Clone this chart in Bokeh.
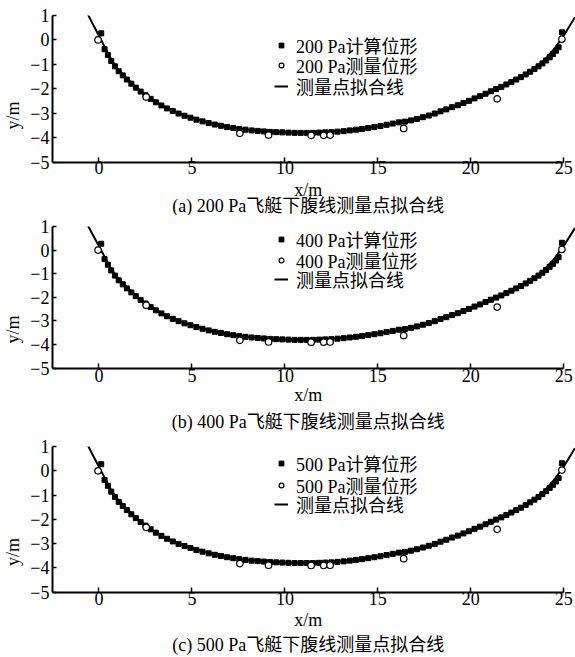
from bokeh.plotting import figure
from bokeh.models import Legend, LegendItem, FixedTicker, Range1d, Label
from bokeh.layouts import column
from bokeh.embed import file_html
from bokeh.resources import INLINE

# ---- data ----
calc_x = [0.12, 0.30, 0.48, 0.66, 0.86, 1.06, 1.28, 1.50, 1.74, 1.98, 2.24, 2.50,
          2.78, 3.06, 3.36, 3.66, 3.97, 4.28, 4.60, 4.92, 5.24, 5.57, 5.90, 6.23,
          6.56, 6.89, 7.22, 7.55, 7.88, 8.21, 8.54, 8.87, 9.20, 9.53, 9.86, 10.19,
          10.52, 10.85, 11.18, 11.51, 11.84, 12.17, 12.50, 12.83, 13.16, 13.49,
          13.82, 14.15, 14.48, 14.81, 15.14, 15.47, 15.80, 16.13, 16.46, 16.78,
          17.10, 17.42, 17.74, 18.06, 18.37, 18.68, 18.99, 19.30, 19.60, 19.90,
          20.20, 20.50, 20.79, 21.08, 21.36, 21.64, 21.91, 22.18, 22.44, 22.70,
          22.95, 23.19, 23.42, 23.64, 23.85, 24.05, 24.24, 24.42, 24.58, 24.72, 24.90]
calc_y = [0.27, -0.38, -0.62, -0.86, -1.08, -1.28, -1.45, -1.62, -1.79, -1.95, -2.11, -2.26,
          -2.41, -2.55, -2.68, -2.80, -2.91, -3.01, -3.10, -3.18, -3.26, -3.33, -3.40, -3.46,
          -3.51, -3.56, -3.60, -3.64, -3.67, -3.70, -3.72, -3.74, -3.76, -3.77, -3.78, -3.79,
          -3.80, -3.80, -3.80, -3.80, -3.79, -3.78, -3.77, -3.75, -3.73, -3.70,
          -3.67, -3.64, -3.60, -3.56, -3.52, -3.47, -3.42, -3.37, -3.34, -3.29,
          -3.23, -3.16, -3.09, -3.01, -2.92, -2.84, -2.75, -2.67, -2.58, -2.49,
          -2.39, -2.30, -2.20, -2.10, -2.01, -1.92, -1.82, -1.72, -1.62, -1.52,
          -1.41, -1.30, -1.19, -1.08, -0.96, -0.84, -0.71, -0.58, -0.44, -0.30, 0.31]

meas_x = [-0.05, 2.54, 7.58, 9.12, 11.41, 12.09, 12.43, 16.39, 21.42, 24.90]
meas_y = [0.00, -2.33, -3.82, -3.89, -3.90, -3.90, -3.89, -3.62, -2.41, 0.03]

fit_x = [-0.6, -0.3, 0.0, 0.3, 0.7, 1.0, 1.5, 2.0, 2.5, 3.0, 3.5, 4.0, 4.5, 5.0, 6.0, 7.0,
         8.0, 9.0, 10.0, 11.0, 12.0, 13.0, 14.0, 15.0, 16.0, 17.0, 18.0, 19.0, 20.0,
         21.0, 22.0, 23.0, 23.5, 24.0, 24.5, 25.0, 25.6]
fit_y = [1.05, 0.60, 0.17, -0.28, -0.85, -1.16, -1.57, -1.93, -2.24, -2.50, -2.72, -2.90,
         -3.05, -3.18, -3.40, -3.56, -3.67, -3.74, -3.78, -3.79, -3.77, -3.72, -3.64,
         -3.53, -3.40, -3.24, -3.02, -2.77, -2.49, -2.17, -1.81, -1.38, -1.11, -0.79,
         -0.36, 0.18, 0.93]

pressures = ["200", "400", "500"]
panel_tags = ["a", "b", "c"]
x_ticks = [0, 5, 10, 15, 20, 25]
y_ticks = [-5, -4, -3, -2, -1, 0, 1]

LATIN = "Liberation Serif"
MIXED = "'Liberation Serif', 'Noto Sans CJK SC'"
FS = "18px"

# page-pixel layout of each panel (layout only, not data)
layouts = [
    dict(top=0, h=215, ftop=15, m5=161.7, xm=189.0, cap=205.0,
         rows=(45.0, 65.0, 86.0), std=-1),
    dict(top=215, h=217, ftop=226, m5=367.7, xm=394.0, cap=421.0,
         rows=(239.3, 259.5, 278.8), std=1),
    dict(top=432, h=225, ftop=446, m5=591.7, xm=619.0, cap=644.0,
         rows=(463.3, 484.7, 504.0), std=0),
]
ROW_H = 26


def make_panel(i):
    L = layouts[i]
    pr = pressures[i]
    bt = L["ftop"] - L["top"]
    ppu = (L["m5"] - L["ftop"]) / 6.0          # pixels per y unit
    bottom_px = L["top"] + L["h"]
    y0 = 1 - (bottom_px - L["ftop"]) / ppu

    def y_at(page_y):
        return 1 - (page_y - L["ftop"]) / ppu

    p = figure(width=575, height=L["h"],
               x_range=Range1d(-2.5, 25.63), y_range=Range1d(y0, 1),
               output_backend="svg", toolbar_location=None,
               min_border_left=50, min_border_right=0,
               min_border_top=bt, min_border_bottom=0)
    p.outline_line_color = None
    p.grid.visible = False
    p.background_fill_color = "white"
    p.border_fill_color = "white"

    r_line = p.line(fit_x, fit_y, line_color="black", line_width=2)
    r_sq = p.scatter(calc_x, calc_y, marker="square", size=5,
                     fill_color="black", line_color="black")
    r_ci = p.scatter(meas_x, meas_y, marker="circle", size=6.5,
                     fill_color="white", line_color="black", line_width=1.2)

    for ax in (p.xaxis, p.yaxis):
        ax.axis_line_width = 2
        ax.axis_line_color = "black"
        ax.major_tick_line_width = 1.5
        ax.major_tick_line_color = "black"
        ax.major_tick_out = 0
        ax.minor_tick_in = 0
        ax.minor_tick_out = 0
        ax.major_label_text_font = LATIN
        ax.major_label_text_font_size = FS
        ax.major_label_text_color = "black"
    p.xaxis.ticker = FixedTicker(ticks=x_ticks)
    p.xaxis.bounds = (-2.5, 25)
    p.xaxis.fixed_location = -5
    p.xaxis.major_tick_in = 5
    p.xaxis.major_label_standoff = L["std"]
    p.yaxis.ticker = FixedTicker(ticks=y_ticks)
    p.yaxis.bounds = (-5, 1)
    p.yaxis.major_tick_in = 4
    p.yaxis.major_label_standoff = 3
    p.yaxis.axis_label = "y/m"
    p.yaxis.axis_label_text_font = LATIN
    p.yaxis.axis_label_text_font_size = FS
    p.yaxis.axis_label_text_font_style = "normal"
    p.yaxis.axis_label_text_color = "black"
    p.yaxis.axis_label_standoff = 4

    p.add_layout(Label(x=11.25, y=y_at(L["xm"]), text="x/m",
                       text_align="center", text_baseline="middle",
                       text_font=LATIN, text_font_size=FS, text_color="black"))
    p.add_layout(Label(x=11.25, y=y_at(L["cap"]),
                       text=f"({panel_tags[i]}) {pr} Pa飞艇下腹线测量点拟合线",
                       text_align="center", text_baseline="middle",
                       text_font=MIXED, text_font_size=FS, text_color="black"))

    labels = [f"{pr} Pa计算位形", f"{pr} Pa测量位形", "测量点拟合线"]
    rends = [r_sq, r_ci, r_line]
    for lab, rend, rc in zip(labels, rends, L["rows"]):
        loc_y = bottom_px - (rc + ROW_H / 2.0)
        lg = Legend(items=[LegendItem(label=lab, renderers=[rend])],
                    location=(222, loc_y), orientation="vertical",
                    padding=0, margin=0, spacing=0,
                    glyph_width=14, glyph_height=12, label_standoff=8,
                    label_height=ROW_H,
                    label_text_font=MIXED, label_text_font_size=FS,
                    label_text_color="black",
                    border_line_color=None, background_fill_alpha=0)
        p.add_layout(lg)
    return p


panels = [make_panel(i) for i in range(3)]
layout = column(*panels, spacing=0)
open("out.html", "w").write(file_html(layout, INLINE))
